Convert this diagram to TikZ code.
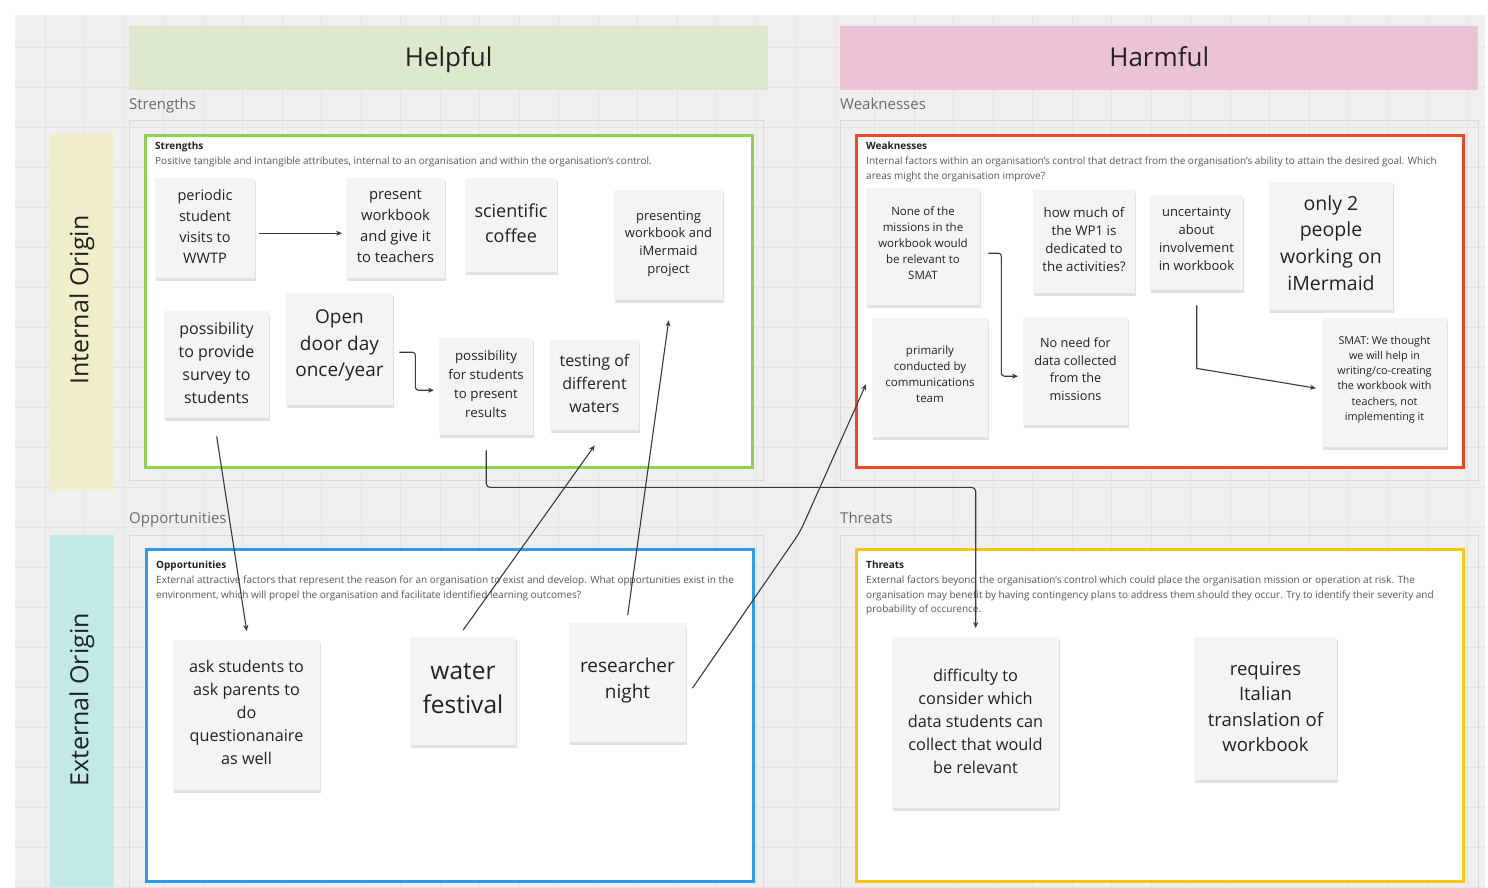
\documentclass[tikz,border=0pt]{standalone}
\usepackage{fontspec}
\setmainfont{Open Sans}
\usetikzlibrary{shadows,arrows.meta,calc}
\definecolor{bggray}{HTML}{EFEFEF}
\definecolor{gridc}{HTML}{E4E4E4}
\definecolor{framec}{HTML}{DADADA}
\definecolor{helpfulc}{HTML}{DCE9CB}
\definecolor{harmfulc}{HTML}{ECBFD3}
\definecolor{internc}{HTML}{F1EFCB}
\definecolor{externc}{HTML}{C2E9E7}
\definecolor{greenc}{HTML}{8FD14F}
\definecolor{redc}{HTML}{F24726}
\definecolor{bluec}{HTML}{2D9BF0}
\definecolor{yellowc}{HTML}{FAC710}
\definecolor{notefill}{HTML}{F3F4F6}
\definecolor{notetext}{HTML}{222222}
\definecolor{labelc}{HTML}{6B6B6B}
\definecolor{descc}{HTML}{555555}
\definecolor{arrowc}{HTML}{3A3A3A}
\newcommand\myfs[2]{\fontsize{#1}{#2}\selectfont}
\begin{document}
\begin{tikzpicture}[x=1pt,y=-1pt,
  stickynote/.style={fill=notefill, draw=none, inner sep=0pt, anchor=north west,
    drop shadow={shadow xshift=1pt, shadow yshift=-3pt, opacity=0.12, fill=black}},
  txt/.style={align=center, text=notetext, inner sep=0pt},
  header/.style={inner sep=0pt, anchor=north west, text=notetext, font=\myfs{26}{30}, text height=21pt, text depth=4pt},
  seclabel/.style={anchor=base west, inner sep=0pt, text=labelc, font=\myfs{15}{18}},
  swotbox/.style={line width=2.5pt, fill=white, inner sep=0pt, anchor=north west,
    minimum width=607, minimum height=332},
  boxtitle/.style={anchor=north west, inner sep=0pt, text=notetext, font=\bfseries\myfs{10}{12}},
  boxdesc/.style={anchor=north west, inner sep=0pt, align=left, text=descc, font=\myfs{10}{14.3}},
  strip/.style={inner sep=0pt, anchor=north west, minimum width=64},
  arr/.style={draw=arrowc, line width=1.1pt, -{Stealth[length=6pt,width=5pt]}},
  frm/.style={draw=framec, line width=0.8pt}
]
\useasboundingbox (0,0) rectangle (1488,887);
\fill[white] (0,0) rectangle (1488,887);
\fill[bggray] (15,15) rectangle (1485,887);
\begin{scope}
\clip (15,15) rectangle (1485,887);
\foreach \gx in {45,84.5,...,1490} \draw[gridc, line width=0.6pt] (\gx,15) -- (\gx,887);
\foreach \gy in {47,87,...,890} \draw[gridc, line width=0.6pt] (15,\gy) -- (1485,\gy);
\end{scope}

% headers
\node[header, fill=helpfulc, fill opacity=0.92, text opacity=1, minimum width=639, minimum height=64] (helpful) at (129,26) {Helpful};
\node[header, fill=harmfulc, fill opacity=0.92, text opacity=1, minimum width=638, minimum height=64] (harmful) at (840,26) {Harmful};

% origin strips
\node[strip, fill=internc, minimum height=357] (intern) at (50,133) {};
\node[rotate=90, text=notetext, font=\myfs{25}{30}, inner sep=0pt] (interntxt) at (82,300) {Internal Origin};
\node[strip, fill=externc, minimum height=352] (extern) at (50,535) {};
\node[rotate=90, text=notetext, font=\myfs{25}{30}, inner sep=0pt] (externtxt) at (82,700) {External Origin};

% section labels
\node[seclabel] (lstr) at (129,109.5) {Strengths};
\node[seclabel] (lweak) at (840,109.5) {Weaknesses};
\node[seclabel] (lopp) at (129,523.5) {Opportunities};
\node[seclabel] (lthr) at (840,523.5) {Threats};

% frames
\draw[frm] (129,120) rectangle (763,480);
\draw[frm] (840,120) rectangle (1478,480);
\draw[frm] (129,535) rectangle (763,892);
\draw[frm] (840,535) rectangle (1478,892);

% SWOT boxes
\node[swotbox, draw=greenc] (strbox) at (144,134) {};
\node[swotbox, draw=redc] (weakbox) at (855,134) {};
\node[swotbox, draw=bluec] (oppbox) at (145,548) {};
\node[swotbox, draw=yellowc] (thrbox) at (855,548) {};

\node[boxtitle] (strt) at (155,142) {Strengths};
\node[boxdesc] (strd) at (155,157) {Positive tangible and intangible attributes, internal to an organisation and within the organisation's control.};
\node[boxtitle] (weakt) at (866,142) {Weaknesses};
\node[boxdesc] (weakd) at (866,157) {Internal factors within an organisation's control that detract from the organisation's ability to attain the desired goal. Which\\areas might the organisation improve?};
\node[boxtitle] (oppt) at (156,561) {Opportunities};
\node[boxdesc] (oppd) at (156,576) {External attractive factors that represent the reason for an organisation to exist and develop. What opportunities exist in the\\environment, which will propel the organisation and facilitate identified learning outcomes?};
\node[boxtitle] (thrt) at (866,561) {Threats};
\node[boxdesc] (thrd) at (866,576) {External factors beyond the organisation's control which could place the organisation mission or operation at risk. The\\organisation may benefit by having contingency plans to address them should they occur. Try to identify their severity and\\probability of occurence.};

% Strength notes
\node[stickynote, minimum width=100, minimum height=100] (s1) at (155,178) {};
\node[txt, font=\myfs{14.5}{21}] (s1t) at (205,226.5) {periodic\\student\\visits to\\WWTP};
\node[stickynote, minimum width=99, minimum height=100] (s2) at (346,178) {};
\node[txt, font=\myfs{14.8}{21}] (s2t) at (395.5,226.5) {present\\workbook\\and give it\\to teachers};
\node[stickynote, minimum width=92, minimum height=94] (s3) at (465,178) {};
\node[txt, font=\myfs{18}{25}] (s3t) at (511,223.5) {scientific\\coffee};
\node[stickynote, minimum width=109, minimum height=110] (s4) at (614,190) {};
\node[txt, font=\myfs{13}{17.7}] (s4t) at (668.5,243.5) {presenting\\workbook and\\iMermaid\\project};
\node[stickynote, minimum width=105, minimum height=107] (s5) at (164,311) {};
\node[txt, font=\myfs{16}{22.7}] (s5t) at (216.5,363) {possibility\\to provide\\survey to\\students};
\node[stickynote, minimum width=107, minimum height=112] (s6) at (286,293) {};
\node[txt, font=\myfs{19}{26.5}] (s6t) at (339.5,345.5) {Open\\door day\\once/year};
\node[stickynote, minimum width=94, minimum height=97] (s7) at (439,338) {};
\node[txt, font=\myfs{13.3}{18.7}] (s7t) at (486,384) {possibility\\for students\\to present\\results};
\node[stickynote, minimum width=89, minimum height=90] (s8) at (550,340) {};
\node[txt, font=\myfs{16}{23}] (s8t) at (594.5,383) {testing of\\different\\waters};

% Weakness notes
\node[stickynote, minimum width=114, minimum height=117] (w1) at (866,188) {};
\node[txt, font=\myfs{11.5}{16}] (w1t) at (923,243) {None of the\\missions in the\\workbook would\\be relevant to\\SMAT};
\node[stickynote, minimum width=102, minimum height=103] (w2) at (1033,190) {};
\node[txt, font=\myfs{13.3}{18}] (w2t) at (1084,239) {how much of\\the WP1 is\\dedicated to\\the activities?};
\node[stickynote, minimum width=93, minimum height=95] (w3) at (1150,195) {};
\node[txt, font=\myfs{13}{18}] (w3t) at (1196.5,239) {uncertainty\\about\\involvement\\in workbook};
\node[stickynote, minimum width=124, minimum height=128] (w4) at (1269,182) {};
\node[txt, font=\myfs{19.5}{26.7}] (w4t) at (1331,243) {only 2\\people\\working on\\iMermaid};
\node[stickynote, minimum width=116, minimum height=119] (w5) at (872,318) {};
\node[txt, font=\myfs{11.5}{16}] (w5t) at (930,374) {primarily\\conducted by\\communications\\team};
\node[stickynote, minimum width=105, minimum height=108] (w6) at (1023,317) {};
\node[txt, font=\myfs{12.7}{17.5}] (w6t) at (1075.5,369) {No need for\\data collected\\from the\\missions};
\node[stickynote, minimum width=125, minimum height=129] (w7) at (1322,318) {};
\node[txt, font=\myfs{10.8}{15.3}] (w7t) at (1384.5,379.5) {SMAT: We thought\\we will help in\\writing/co-creating\\the workbook with\\teachers, not\\implementing it};

% Opportunity notes
\node[stickynote, minimum width=147, minimum height=150] (o1) at (173,640) {};
\node[txt, font=\myfs{16.2}{22.8}] (o1t) at (246.5,712.5) {ask students to\\ask parents to\\do\\questionanaire\\as well};
\node[stickynote, minimum width=106, minimum height=108] (o2) at (410,637) {};
\node[txt, font=\myfs{24.5}{34}] (o2t) at (463,689) {water\\festival};
\node[stickynote, minimum width=117, minimum height=119] (o3) at (569,623) {};
\node[txt, font=\myfs{19}{26}] (o3t) at (627.5,681) {researcher\\night};

% Threat notes
\node[stickynote, minimum width=167, minimum height=171] (t1) at (892,637) {};
\node[txt, font=\myfs{16.3}{23}] (t1t) at (975.5,721) {difficulty to\\consider which\\data students can\\collect that would\\be relevant};
\node[stickynote, minimum width=143, minimum height=143] (t2) at (1194,637) {};
\node[txt, font=\myfs{18.5}{25.5}] (t2t) at (1265.5,707) {requires\\Italian\\translation of\\workbook};

% connectors
\coordinate (k1) at (800,532);
\draw[arr] ([xshift=4pt,yshift=-5pt]s1.east) -- ([xshift=-4pt,yshift=-5pt]s2.west);
\draw[arr, rounded corners=3pt] ([xshift=6pt,yshift=-3pt]s6.east) -- ++(16,0) |- ([xshift=-5pt,yshift=-3.5pt]s7.west);
\draw[arr] ([yshift=-18pt]s5.south) -- ([yshift=9pt]o1.north);
\draw[arr] ([yshift=7pt]o2.north) -- ([yshift=-15pt]s8.south);
\draw[arr] ([yshift=8pt]o3.north) -- ([yshift=-20pt]s4.south);
\draw[arr, rounded corners=4pt] ([yshift=-15pt]s7.south) -- ++(0,37) -| ([yshift=9pt]t1.north);
\draw[arr, rounded corners=8pt] ([xshift=6pt,yshift=-5.5pt]o3.east) -- (k1) -- ([xshift=-6pt,yshift=-6.5pt]w5.west);
\draw[arr, rounded corners=3pt] ([xshift=8pt,yshift=-6.5pt]w1.east) -- ++(13,0) |- ([xshift=-5pt,yshift=-5pt]w6.west);
\draw[arr] ([yshift=-15pt]w3.south) -- ++(0,63) -- ([xshift=-6pt,yshift=-5.5pt]w7.west);
\end{tikzpicture}
\end{document}
